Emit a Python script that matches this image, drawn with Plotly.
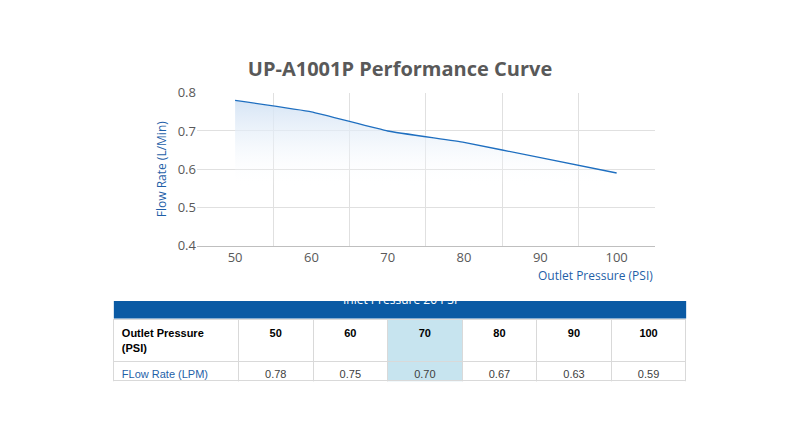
import pandas as pd
import plotly.graph_objects as go

# 성능 데이터
df = pd.DataFrame({
    'outlet_pressure': [50, 60, 70, 80, 90, 100],
    'flow_rate': [0.78, 0.75, 0.70, 0.67, 0.63, 0.59],
    'current': [0.49, 0.54, 0.60, 0.64, 0.96, 0.74],
})


def plot_curve(fig: go.Figure, df: pd.DataFrame) -> go.Figure:
    """
    Add the flow rate curve with a fading fill underneath.

    Parameters
    ----------
    fig : plotly.graph_objs._figure.Figure
        The figure to draw on.
    df : pandas.DataFrame
        The performance data.

    Returns
    -------
    plotly.graph_objs._figure.Figure
        The figure with the curve added.
    """
    fig.add_trace(go.Scatter(
        x=df['outlet_pressure'], y=df['flow_rate'] - 0.22,
        mode='lines', line=dict(width=0), hoverinfo='skip', showlegend=False,
    ))
    fig.add_trace(go.Scatter(
        x=df['outlet_pressure'], y=df['flow_rate'],
        mode='lines', line=dict(color='#1f6fc0', width=1.3, shape='spline', smoothing=0.3),
        fill='tonexty',
        fillgradient=dict(type='vertical',
                          colorscale=[[0, 'rgba(255,255,255,0)'], [0.45, 'rgba(255,255,255,0)'],
                                      [0.75, 'rgba(232,240,249,0.6)'], [1, 'rgba(210,226,244,0.9)']]),
        showlegend=False,
    ))
    return fig


def plot_table(fig: go.Figure, df: pd.DataFrame) -> go.Figure:
    """
    Add the data table below the chart.

    Parameters
    ----------
    fig : plotly.graph_objs._figure.Figure
        The figure to draw on.
    df : pandas.DataFrame
        The performance data.

    Returns
    -------
    plotly.graph_objs._figure.Figure
        The figure with the table added.
    """
    header = ['<b>Outlet Pressure (PSI)</b>'] + [f'<b>{p}</b>' for p in df['outlet_pressure']]
    cols = [['FLow Rate (LPM)', 'Current (A)']] + [
        [f'{f:.2f}', f'{c:.2f}'] for f, c in zip(df['flow_rate'], df['current'])
    ]
    fills = ['white' if p != 70 else '#c7e4ef' for p in df['outlet_pressure']]
    fig.add_trace(go.Table(
        domain=dict(x=[0.135, 0.865], y=[0.09, 0.246]),
        columnwidth=[127] + [76] * 6,
        header=dict(values=header, height=22, fill_color=['white'] + fills,
                    line_color='#d9d9d9', font=dict(color='black', size=11, family='Liberation Sans'),
                    align=['left'] + ['center'] * 6),
        cells=dict(values=cols, height=19, fill_color=[['white']] + [[c] for c in fills],
                   line_color='#d9d9d9',
                   font=dict(color=[['#1f5fa8']] + [['#404040']] * 6, size=11, family='Liberation Sans'),
                   align=['left'] + ['center'] * 6),
    ))
    fig.add_shape(type='rect', xref='paper', yref='paper', x0=0.135, x1=0.865,
                  y0=0.248, y1=0.292, fillcolor='#0a5aa4', line_width=0)
    fig.add_annotation(text='Inlet Pressure 20 PSI', xref='paper', yref='paper', x=0.5, y=0.27,
                       showarrow=False, font=dict(color='white', size=12, family='Open Sans'))
    return fig


fig = go.Figure()
fig = plot_curve(fig, df)
fig = plot_table(fig, df)
fig.update_layout(
    margin=dict(l=0, r=0, t=0, b=0),
    paper_bgcolor='white', plot_bgcolor='white',
    font=dict(family='Open Sans', color='#595959'),
    title=dict(text='<b>UP-A1001P Performance Curve</b>', x=0.5, y=0.87, xanchor='center',
               font=dict(size=20, color='#595959')),
    xaxis=dict(domain=[0.241, 0.825], range=[45, 105], tickvals=list(df['outlet_pressure']),
               showgrid=False, zeroline=False, showline=True, linecolor='#bfbfbf',
               minor=dict(tickvals=[55, 65, 75, 85, 95, 105], showgrid=True, gridcolor='#e0e0e0'),
               tickfont=dict(size=13), anchor='y'),
    yaxis=dict(domain=[0.43, 0.811], range=[0.4, 0.8], dtick=0.1, tickformat='.1f',
               gridcolor='#e0e0e0', zeroline=False, tickfont=dict(size=13),
               title=dict(text='Flow Rate (L/Min)', font=dict(size=12, color='#1f5fa8'), standoff=8)),
)
fig.add_annotation(text='Outlet Pressure (PSI)', xref='paper', yref='paper', x=0.825, y=0.33,
                   xanchor='right', showarrow=False, font=dict(size=12, color='#1f5fa8'))
fig.write_html("out.html")
